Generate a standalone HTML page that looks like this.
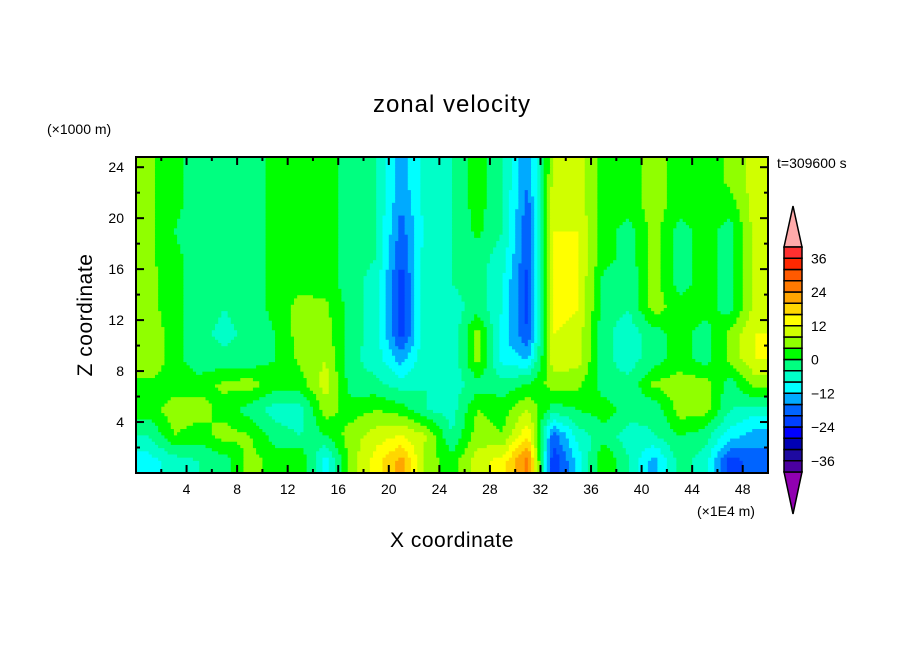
<!DOCTYPE html>
<html><head><meta charset="utf-8"><style>
html,body{margin:0;padding:0;background:#fff;}
svg{display:block;font-family:"Liberation Sans",sans-serif;}
</style></head><body>
<svg id="chart" width="904" height="654" viewBox="0 0 904 654">
<rect width="904" height="654" fill="#fff"/>
<text x="452" y="112" text-anchor="middle" font-size="24" letter-spacing="1">zonal velocity</text>
<text x="47" y="134" font-size="14">(×1000 m)</text>
<text x="777" y="168" font-size="14">t=309600 s</text>
<text x="697" y="516" font-size="14">(×1E4 m)</text>
<text x="452" y="547" text-anchor="middle" font-size="21" letter-spacing="0.5">X coordinate</text>
<text transform="translate(92,315) rotate(-90)" text-anchor="middle" font-size="21" letter-spacing="0.5">Z coordinate</text>
<g id="field"></g>
<g id="axes"></g>
<g id="cbar"></g>
</svg>
<script>
const xCategories=[1,3,5,7,9,11,13,15,17,19,21,23,25,27,29,31,33,35,37,39,41,43,45,47,49];
const zLevels=[1,3,5,7,9,11,13,15,17,19,21,23,24.5];
const u0=[-10,-6,-4,-2,6,2,4,-10,6,14,22,6,2,10,14,26,-24,-10,4,-4,-14,-2,-6,-22,-18];
const u1=[-4,4,2,6,4,-2,-4,0,6,10,12,8,-4,6,4,16,-18,-6,-2,-6,-4,0,-2,-10,-14];
const u2=[2,6,6,2,-2,-6,-6,6,2,4,2,-4,-6,4,2,8,-2,0,2,-2,-3,6,6,-4,-6];
const u3=[3,2,2,5,6,2,2,10,-2,-3,-6,-4,-6,-2,-2,0,6,5,-2,-3,5,6,6,-2,6];
const u4=[8,2,-3,-3,-3,0,5,8,-3,-6,-14,-4,-8,6,-10,-12,10,10,-3,-6,-2,2,-2,5,12];
const u5=[7,2,-3,-5,-3,0,6,6,-2,-6,-22,-4,-8,6,-10,-20,12,10,-3,-6,-2,2,-2,5,12];
const u6=[6,1,-2,-4,-2,1,6,5,-2,-6,-22,-4,-6,-2,-8,-22,14,12,-2,-4,6,2,2,-2,10];
const u7=[6,1,-2,-2,-2,1,2,2,-2,-6,-22,-4,-4,-2,-8,-22,14,12,-2,-4,6,-2,2,-2,10];
const u8=[5,1,-2,-2,-2,1,2,2,-2,-4,-20,-5,-4,-2,-6,-20,14,12,2,-2,6,-2,2,-2,10];
const u9=[5,0,-2,-2,-2,1,2,2,-2,-4,-18,-6,-4,1,-4,-20,12,12,2,-2,6,-2,2,-2,10];
const u10=[5,1,-2,-2,-2,1,2,2,-2,-4,-16,-6,-4,2,-4,-18,12,10,2,2,6,2,2,2,10];
const u11=[5,1,-2,-2,-2,1,2,2,-2,-4,-14,-6,-4,2,-4,-16,9,10,2,2,6,2,1,5,10];
const u12=[5,1,-2,-2,-2,1,2,2,-2,-4,-14,-6,-4,2,-4,-16,8,10,2,2,6,2,1,5,10];
const rows=[u0,u1,u2,u3,u4,u5,u6,u7,u8,u9,u10,u11,u12];
const levels=[-40,-36,-32,-28,-24,-20,-16,-12,-8,-4,0,4,8,12,16,20,24,28,32,36,40];
const colors=["#4b00a0","#1e0aa0","#0000b4","#0000ff","#0040ff","#0064ff","#00aaff","#00ffff","#00ffc8","#00ff80","#00ff00","#90ff00","#d0ff00","#ffff00","#ffd700","#ffa500","#ff7a00","#ff5a00","#ff2800","#ff3030"];
const xTicks=[4,8,12,16,20,24,28,32,36,40,44,48];
const zTicks=[4,8,12,16,20,24];
const cbLabels=[36,24,12,0,-12,-24,-36];

const NS="http://www.w3.org/2000/svg";
const L=136,R=768,T=157,B=473,X0=0,X1=50,Z0=0,Z1=24.8;
const sx=v=>L+(v-X0)/(X1-X0)*(R-L);
const sz=v=>B-(v-Z0)/(Z1-Z0)*(B-T);
function mk(tag,attrs,parent){const e=document.createElementNS(NS,tag);for(const k in attrs)e.setAttribute(k,attrs[k]);parent.appendChild(e);return e;}
function colorOf(v){let i=Math.floor((v+40)/4);if(i<0)i=0;if(i>19)i=19;return colors[i];}
function interp(pts,p){if(p<=pts[0])return [0,0,0];for(let i=0;i<pts.length-1;i++){if(p<=pts[i+1])return [i,i+1,(p-pts[i])/(pts[i+1]-pts[i])];}const n=pts.length-1;return [n,n,0];}
function value(x,z){const [i0,i1,fx]=interp(xCategories,x);const [j0,j1,fz]=interp(zLevels,z);
 const a=rows[j0][i0]*(1-fx)+rows[j0][i1]*fx;const b=rows[j1][i0]*(1-fx)+rows[j1][i1]*fx;return a*(1-fz)+b*fz;}
const field=document.getElementById('field');
const dx=0.25,dz=0.25;
for(let z=Z0;z<Z1;z+=dz){
 let runStart=X0,runCol=null;
 for(let x=X0;x<=X1+1e-9;x+=dx){
  const c=x<X1-1e-9?colorOf(value(x+dx/2,z+dz/2)):null;
  if(c!==runCol){
   if(runCol){const r=mk('rect',{x:sx(runStart),y:sz(Math.min(z+dz,Z1)),width:sx(x)-sx(runStart)+0.6,height:sz(z)-sz(Math.min(z+dz,Z1))+0.6,fill:runCol},field);
    
    }
   runStart=x;runCol=c;}
 }
}
const ax=document.getElementById('axes');
const fr=mk('rect',{x:L,y:T,width:R-L,height:B-T,fill:'none',stroke:'#000','stroke-width':2},ax);


for(let v=2;v<50;v+=2){const major=v%4===0;const len=major?8:4;const x=sx(v);
 mk('line',{x1:x,y1:B,x2:x,y2:B-len,stroke:'#000','stroke-width':2},ax);
 mk('line',{x1:x,y1:T,x2:x,y2:T+len,stroke:'#000','stroke-width':2},ax);}
for(let v=2;v<25;v+=2){const major=v%4===0;const len=major?8:4;const y=sz(v);
 mk('line',{x1:L,y1:y,x2:L+len,y2:y,stroke:'#000','stroke-width':2},ax);
 mk('line',{x1:R,y1:y,x2:R-len,y2:y,stroke:'#000','stroke-width':2},ax);}
xTicks.forEach(v=>{const t=mk('text',{x:sx(v),y:B+21,'text-anchor':'middle','font-size':14},ax);t.textContent=v;
 
 });
zTicks.forEach(v=>{const t=mk('text',{x:L-12,y:sz(v)+5,'text-anchor':'end','font-size':14},ax);t.textContent=v;
 
 });
const cb=document.getElementById('cbar');
const cx0=784,cx1=802,cT=247,cB=472,bh=(cB-cT)/20;
const cy=v=>cT+(40-v)/80*(cB-cT);
mk('polygon',{points:`${cx0},${cT} ${(cx0+cx1)/2},206 ${cx1},${cT}`,fill:'#ffaaaa',stroke:'#000','stroke-width':1.5},cb);
mk('polygon',{points:`${cx0},${cB} ${(cx0+cx1)/2},514 ${cx1},${cB}`,fill:'#9000b0',stroke:'#000','stroke-width':1.5},cb);
for(let i=0;i<20;i++){const r=mk('rect',{x:cx0,y:cy(levels[i+1]),width:cx1-cx0,height:bh,fill:colors[i],stroke:'#000','stroke-width':1.5},cb);
 
 }
cbLabels.forEach(v=>{const t=mk('text',{x:811,y:cy(v)+5,'font-size':14},cb);t.textContent=(v<0?'\u2212':'')+Math.abs(v);
 
 });
</script>
</body></html>
